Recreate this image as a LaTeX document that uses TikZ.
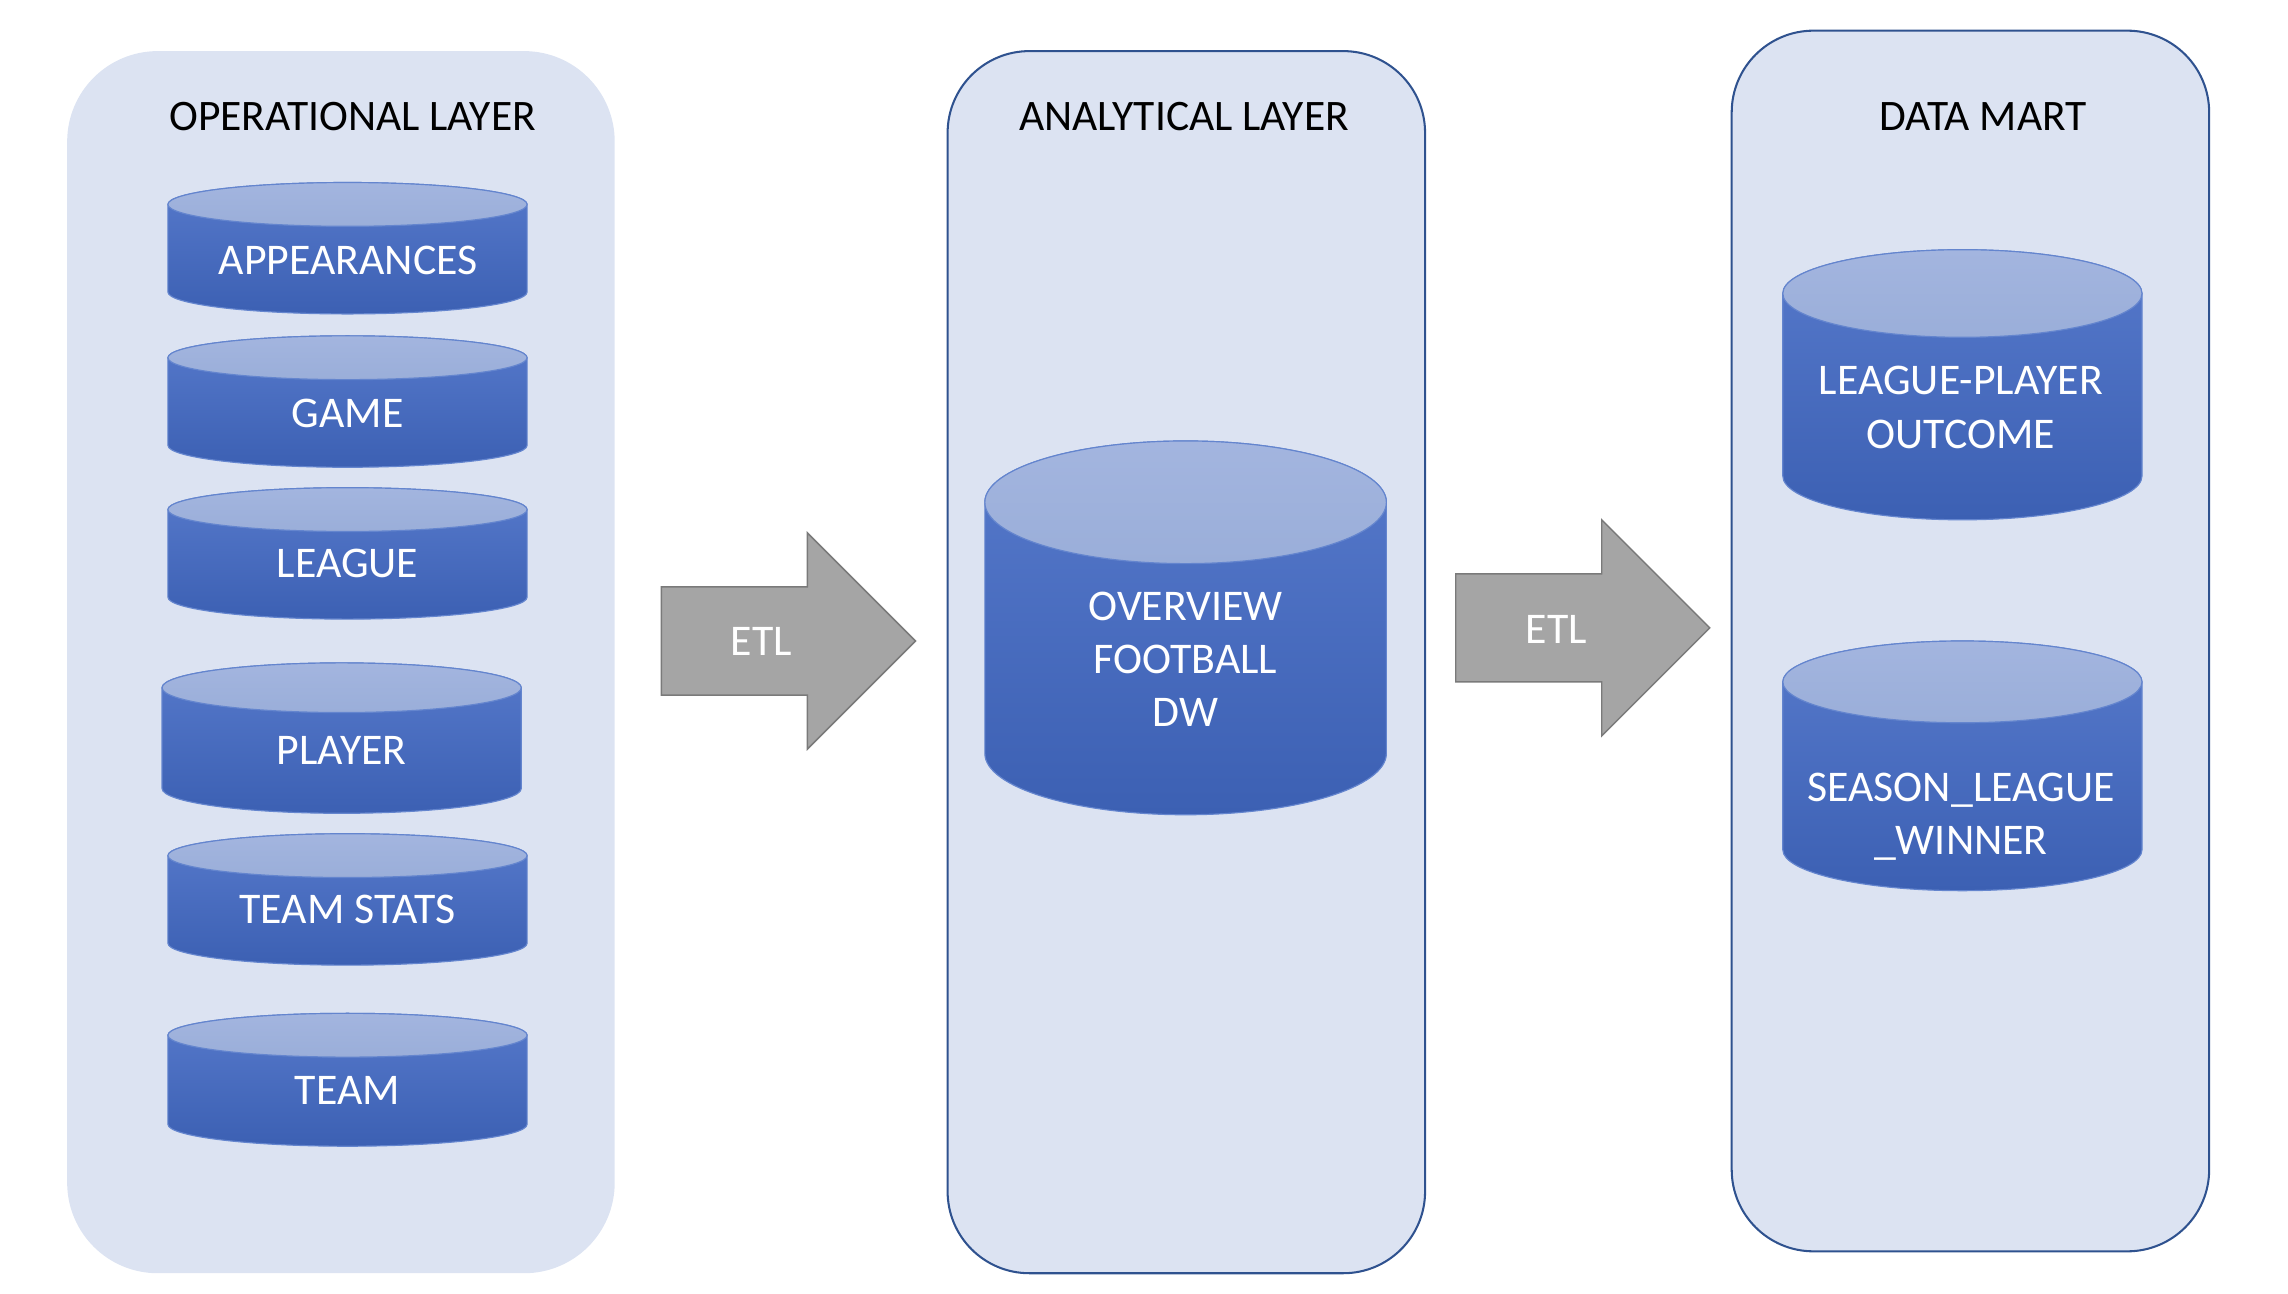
\documentclass[tikz,border=0pt]{standalone}
\usepackage{fontspec}
\setmainfont{Carlito}
\definecolor{panelfill}{HTML}{DCE3F2}
\definecolor{panelline}{HTML}{2F528F}
\definecolor{cyltopA}{HTML}{A3B5DF}
\definecolor{cyltopB}{HTML}{9AAED9}
\definecolor{cylbodyA}{HTML}{5679CB}
\definecolor{cylbodyB}{HTML}{3C60B3}
\definecolor{cyledge}{HTML}{6485CE}
\definecolor{arrowfill}{HTML}{A5A5A5}
\definecolor{arrowline}{HTML}{7A7A7A}
\tikzset{
  panelbox/.style={fill=panelfill, rounded corners=56, draw=panelline, line width=1.4},
  panelplain/.style={fill=panelfill, rounded corners=62, draw=none},
  cylbody/.style={top color=cylbodyA, bottom color=cylbodyB, draw=cyledge, line width=0.8},
  cyltop/.style={top color=cyltopA, bottom color=cyltopB, draw=cyledge, line width=0.8},
  titletext/.style={text=black, font=\fontsize{29.8}{36}\selectfont, inner sep=0, text depth=0pt},
  cyltext/.style={text=white, font=\fontsize{30}{36.5}\selectfont, align=center, inner sep=0, text depth=0pt},
  etlshape/.style={fill=arrowfill, draw=arrowline, line width=1},
  etltext/.style={text=white, font=\fontsize{30}{36}\selectfont, inner sep=0, text depth=0pt}
}
% cylinder drawing: cx, top, width, height, ry
\newcommand\dbcyl[5]{%
  \path[cylbody] ({#1-#3/2},{-(#2+#5)}) -- ({#1-#3/2},{-(#2+#4-#5)})
    arc[start angle=180,end angle=360,x radius={#3/2},y radius=#5]
    -- ({#1+#3/2},{-(#2+#5)})
    arc[start angle=0,end angle=180,x radius={#3/2},y radius=#5] -- cycle;
  \path[cyltop] (#1,{-(#2+#5)}) ellipse[x radius={#3/2},y radius=#5];
}
% ETL arrow: left x, head base x, tip x, tip y, body half, head half
\newcommand\etlarrow[6]{%
  \path[etlshape] (#1,{-(#4-#5)}) -- (#2,{-(#4-#5)}) -- (#2,{-(#4-#6)}) -- (#3,-#4)
    -- (#2,{-(#4+#6)}) -- (#2,{-(#4+#5)}) -- (#1,{-(#4+#5)}) -- cycle;
}
\begin{document}
\begin{tikzpicture}[x=1pt,y=1pt]
\useasboundingbox (0,0) rectangle (1567,-886.2);
% panels
\node[panelplain, minimum width=375, minimum height=837, inner sep=0] (oppanel) at (233.5,-453.5) {};
\node[panelbox, minimum width=327, minimum height=837, inner sep=0] (anpanel) at (812.5,-453.5) {};
\node[panelbox, minimum width=327, minimum height=836, inner sep=0] (dmpanel) at (1349.5,-439) {};
% titles
\node[titletext] (optitle) at (241.5,-80) {OPERATIONAL LAYER};
\node[titletext] (antitle) at (811,-80) {ANALYTICAL LAYER};
\node[titletext] (dmtitle) at (1358,-80) {DATA MART};
% operational cylinders
\dbcyl{238}{125}{246}{90}{15}
\node[cyltext] (appearances) at (238.5,-178) {APPEARANCES};
\dbcyl{238}{230}{246}{90}{15}
\node[cyltext] (game) at (238,-283) {GAME};
\dbcyl{238}{334}{246}{90}{15}
\node[cyltext] (league) at (238,-386) {LEAGUE};
\dbcyl{234}{454}{246}{103}{17}
\node[cyltext] (player) at (234,-514) {PLAYER};
\dbcyl{238}{571}{246}{90}{15}
\node[cyltext] (teamstats) at (238,-623) {TEAM STATS};
\dbcyl{238}{694}{246}{91}{15}
\node[cyltext] (team) at (238,-747) {TEAM};
% analytical cylinder
\dbcyl{812}{302}{275}{256}{42}
\node[cyltext] (overview) at (812,-451.5) {OVERVIEW\\FOOTBALL\\DW};
% data mart cylinders
\dbcyl{1344}{171}{246}{185}{30}
\node[cyltext] (lpoutcome) at (1343,-279) {LEAGUE-PLAYER\\OUTCOME};
\dbcyl{1344}{439}{246}{171}{28}
\node[cyltext] (slwinner) at (1343,-557.5) {SEASON\_LEAGUE\\\_WINNER};
% ETL arrows
\etlarrow{453}{553}{627}{439}{37}{74}
\node[etltext] (etlone) at (521.5,-439) {ETL};
\etlarrow{997}{1097}{1171}{430}{37}{74}
\node[etltext] (etltwo) at (1066,-431) {ETL};
\end{tikzpicture}
\end{document}
